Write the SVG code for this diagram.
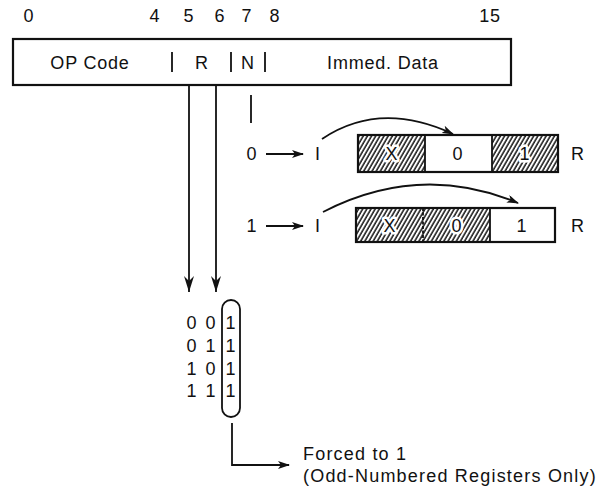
<svg xmlns="http://www.w3.org/2000/svg" width="598" height="497" viewBox="0 0 598 497">
<style>
text{font-family:"Liberation Sans",Arial,sans-serif;font-size:18px;fill:#111;letter-spacing:0.8px}
.m{text-anchor:middle}
.ln{stroke:#111;stroke-width:1.8;fill:none}
.box{stroke:#111;stroke-width:2.2;fill:#fff}
.h{fill:url(#hatch)}
.ht{stroke:#fff;stroke-width:5;paint-order:stroke;stroke-linejoin:round}
.note{letter-spacing:1.2px}
</style>
<defs>
<pattern id="hatch" patternUnits="userSpaceOnUse" width="3.6" height="12" patternTransform="rotate(30)">
<rect width="3.6" height="12" fill="#fff"/>
<line x1="1" y1="0" x2="1" y2="12" stroke="#111" stroke-width="1.5"/>
</pattern>
<marker id="ah" markerWidth="12" markerHeight="8" refX="11" refY="4" orient="auto" markerUnits="userSpaceOnUse">
<path d="M0,0 L12,4 L0,8 L3,4 Z" fill="#111"/>
</marker>
<marker id="av" markerWidth="16" markerHeight="10" refX="16" refY="5" orient="auto" markerUnits="userSpaceOnUse">
<path d="M0,0 L16,5 L0,10 L5,5 Z" fill="#111"/>
</marker>
</defs>
<rect width="598" height="497" fill="#fff"/>

<g id="bitnumbers">
<text x="29" y="22" class="m">0</text>
<text x="155" y="22" class="m">4</text>
<text x="189" y="22" class="m">5</text>
<text x="220" y="22" class="m">6</text>
<text x="247" y="22" class="m">7</text>
<text x="275" y="22" class="m">8</text>
<text x="490" y="22" class="m">15</text>
</g>

<g id="instruction">
<rect class="box" x="13" y="39" width="498" height="46"/>
<line class="ln" x1="172" y1="52" x2="172" y2="72"/>
<line class="ln" x1="231" y1="52" x2="231" y2="72"/>
<line class="ln" x1="265" y1="52" x2="265" y2="72"/>
<text x="90" y="69" class="m">OP Code</text>
<text x="202" y="69" class="m">R</text>
<text x="248" y="69" class="m">N</text>
<text x="383" y="69" class="m">Immed. Data</text>
</g>

<g id="row0">
<text x="252" y="160" class="m">0</text>
<text x="318" y="160" class="m">I</text>
<rect class="h" x="358" y="135" width="67" height="37"/>
<rect fill="#fff" x="425" y="135" width="67" height="37"/>
<rect class="h" x="492" y="135" width="66" height="37"/>
<rect x="358" y="135" width="200" height="37" fill="none" stroke="#111" stroke-width="2.2"/>
<line class="ln" x1="425" y1="135" x2="425" y2="172"/>
<line class="ln" x1="492" y1="135" x2="492" y2="172"/>
<text x="392" y="160" class="m ht">X</text>
<text x="458" y="160" class="m">0</text>
<text x="525" y="160" class="m ht">1</text>
<text x="578" y="160" class="m">R</text>
</g>

<g id="row1">
<text x="252" y="232" class="m">1</text>
<text x="318" y="232" class="m">I</text>
<rect class="h" x="356" y="208" width="67" height="34"/>
<rect class="h" x="423" y="208" width="67" height="34"/>
<rect fill="#fff" x="490" y="208" width="65" height="34"/>
<rect x="356" y="208" width="199" height="34" fill="none" stroke="#111" stroke-width="2.2"/>
<line class="ln" x1="423" y1="208" x2="423" y2="242" stroke-dasharray="3,1.5"/>
<line class="ln" x1="490" y1="208" x2="490" y2="242"/>
<text x="390" y="232" class="m ht">X</text>
<text x="457" y="232" class="m ht">0</text>
<text x="522" y="232" class="m">1</text>
<text x="578" y="232" class="m">R</text>
</g>

<g id="matrix">
<text x="192" y="329" class="m">0</text><text x="211" y="329" class="m">0</text><text x="231" y="329" class="m">1</text>
<text x="192" y="352" class="m">0</text><text x="211" y="352" class="m">1</text><text x="231" y="352" class="m">1</text>
<text x="192" y="375" class="m">1</text><text x="211" y="375" class="m">0</text><text x="231" y="375" class="m">1</text>
<text x="192" y="397" class="m">1</text><text x="211" y="397" class="m">1</text><text x="231" y="397" class="m">1</text>
<rect x="222" y="300" width="18" height="117" rx="9" ry="9" fill="none" stroke="#111" stroke-width="1.8"/>
</g>

<g id="note">
<text x="303" y="460" class="note">Forced to 1</text>
<text x="303" y="482" class="note">(Odd-Numbered Registers Only)</text>
</g>

<g id="connectors">
<line class="ln" x1="189" y1="85" x2="189" y2="292" marker-end="url(#av)"/>
<line class="ln" x1="216" y1="85" x2="216" y2="292" marker-end="url(#av)"/>
<line class="ln" x1="251" y1="95" x2="251" y2="123"/>
<line class="ln" x1="266" y1="154" x2="303" y2="154" marker-end="url(#ah)"/>
<line class="ln" x1="266" y1="226" x2="303" y2="226" marker-end="url(#ah)"/>
<path class="ln" d="M322,139 Q380,100 453,134" marker-end="url(#ah)"/>
<path class="ln" d="M323,212 Q420,162 518,203" marker-end="url(#ah)"/>
<path class="ln" d="M232,423 L232,465 L289,465" marker-end="url(#ah)"/>
</g>
</svg>
